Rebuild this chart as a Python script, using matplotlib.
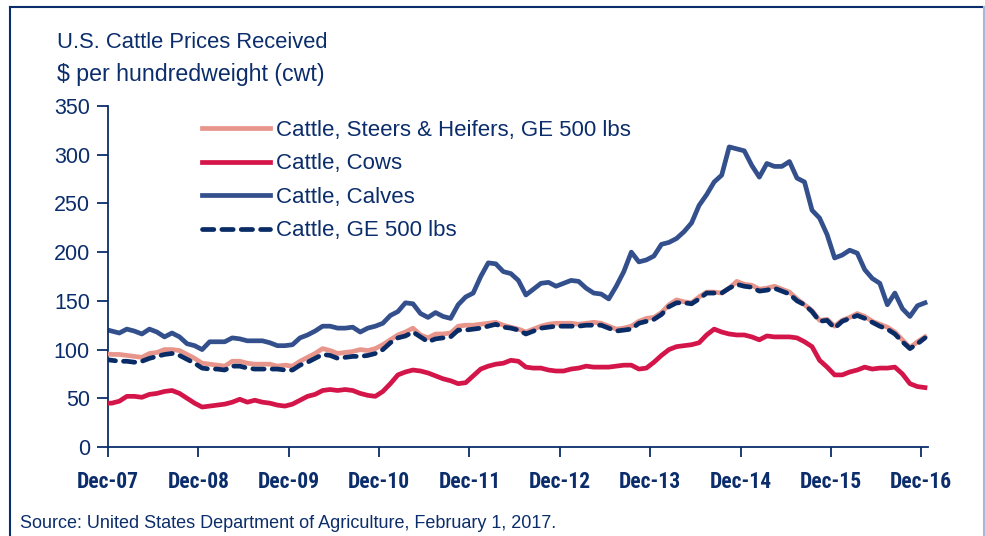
import numpy as np
import matplotlib
matplotlib.use("Agg")
import matplotlib.pyplot as plt
from matplotlib import font_manager
from matplotlib.lines import Line2D

# ---------------- data (monthly, $ per cwt) ----------------
steers_heifers = [96, 95, 95, 94, 93, 92, 96, 97, 100, 100,
                  99, 95, 91, 86, 85, 84, 83, 88, 88, 86,
                  85, 85, 85, 83, 84, 83, 88, 92, 96, 101,
                  99, 96, 97, 98, 100, 99, 101, 105, 110, 115,
                  118, 122, 115, 112, 116, 116, 117, 124, 125, 125,
                  126, 127, 128, 125, 123, 121, 118, 121, 124, 126,
                  127, 127, 127, 126, 127, 128, 127, 124, 121, 122,
                  124, 129, 132, 133, 138, 146, 151, 149, 148, 154,
                  159, 159, 158, 163, 170, 167, 166, 162, 163, 165,
                  162, 159, 152, 146, 140, 130, 131, 124, 130, 133,
                  137, 134, 129, 126, 123, 118, 110, 102, 108, 113]

cows = [45, 45, 47, 52, 52, 51, 54, 55, 57, 58,
        55, 50, 45, 41, 42, 43, 44, 46, 49, 46,
        48, 46, 45, 43, 42, 44, 48, 52, 54, 58,
        59, 58, 59, 58, 55, 53, 52, 57, 65, 74,
        77, 79, 78, 76, 73, 70, 68, 65, 66, 73,
        80, 83, 85, 86, 89, 88, 82, 81, 81, 79,
        78, 78, 80, 81, 83, 82, 82, 82, 83, 84,
        84, 80, 81, 87, 94, 100, 103, 104, 105, 107,
        115, 121, 118, 116, 115, 115, 113, 110, 114, 113,
        113, 113, 112, 108, 103, 89, 82, 74, 74, 77,
        79, 82, 80, 81, 81, 82, 75, 65, 62, 61]

calves = [121, 119, 117, 121, 119, 116, 121, 118, 113, 117,
          113, 106, 104, 100, 108, 108, 108, 112, 111, 109,
          109, 109, 107, 104, 104, 105, 112, 115, 119, 124,
          124, 122, 122, 123, 118, 122, 124, 127, 135, 139,
          148, 147, 137, 133, 138, 134, 132, 146, 154, 158,
          175, 189, 188, 180, 178, 171, 156, 162, 168, 169,
          165, 168, 171, 170, 163, 158, 157, 152, 165, 180,
          200, 190, 192, 196, 208, 210, 214, 221, 230, 248,
          259, 272, 279, 308, 306, 304, 289, 277, 291, 288,
          288, 293, 276, 272, 243, 235, 218, 194, 197, 202,
          199, 182, 173, 168, 146, 158, 142, 134, 145, 148]

ge_500 = [90, 89, 88, 88, 87, 88, 91, 93, 95, 96,
          94, 90, 86, 81, 80, 80, 79, 83, 83, 81,
          80, 80, 80, 80, 79, 79, 84, 87, 91, 95,
          94, 91, 92, 93, 93, 94, 96, 100, 107, 112,
          114, 118, 113, 108, 111, 112, 113, 120, 120, 121,
          122, 124, 126, 123, 122, 120, 116, 119, 122, 123,
          124, 124, 124, 124, 125, 125, 125, 122, 119, 120,
          121, 127, 129, 131, 136, 144, 148, 148, 147, 152,
          158, 158, 158, 163, 167, 165, 164, 160, 161, 163,
          160, 157, 150, 146, 139, 129, 130, 122, 129, 132,
          135, 132, 128, 124, 121, 116, 108, 101, 106, 112]

tick_labels = ["Dec-07", "Dec-08", "Dec-09", "Dec-10", "Dec-11",
               "Dec-12", "Dec-13", "Dec-14", "Dec-15", "Dec-16"]
y_ticks = [0, 50, 100, 150, 200, 250, 300, 350]

series_names = ["Cattle, Steers & Heifers, GE 500 lbs", "Cattle, Cows",
                "Cattle, Calves", "Cattle, GE 500 lbs"]

# ---------------- styling ----------------
NAVY = "#0B2D6B"
C_STEERS = "#E8968C"
C_COWS = "#D4154A"
C_CALVES = "#33508C"
C_GE = "#0A2C66"

avail = {f.name for f in font_manager.fontManager.ttflist}
base_font = "Liberation Sans" if "Liberation Sans" in avail else "DejaVu Sans"
narrow_font = base_font
for cand in ["Liberation Sans Narrow", "Arial Narrow", "Roboto Condensed"]:
    if cand in avail:
        narrow_font = cand
        break
plt.rcParams["font.family"] = [base_font, "DejaVu Sans"]

fig = plt.figure(figsize=(9.85, 5.36), dpi=100)
ax = fig.add_axes([108 / 985, 1 - 447 / 536, (928 - 108) / 985, (447 - 106) / 536])

n = len(calves)
x = np.arange(n) - 0.5  # month index relative to Dec-07 tick

lw = 3.4
ax.plot(x, calves, color=C_CALVES, lw=lw, solid_joinstyle="round", label=series_names[2], zorder=2)
ax.plot(x, steers_heifers, color=C_STEERS, lw=lw, solid_joinstyle="round", label=series_names[0], zorder=3)
ax.plot(x, cows, color=C_COWS, lw=lw, solid_joinstyle="round", label=series_names[1], zorder=3)
ax.plot(x, ge_500, color=C_GE, lw=lw, ls=(0, (2.4, 1.7)), dash_capstyle="round",
        label=series_names[3], zorder=4)

ax.set_xlim(0, 108.9)
ax.set_ylim(0, 350)

for s in ["top", "right"]:
    ax.spines[s].set_visible(False)
for s in ["left", "bottom"]:
    ax.spines[s].set_color(NAVY)
    ax.spines[s].set_linewidth(1.3)

ax.set_yticks(y_ticks)
ax.set_yticklabels([str(v) for v in y_ticks])
ax.set_xticks(np.arange(len(tick_labels)) * 12)
ax.set_xticklabels(tick_labels)
ax.tick_params(axis="y", direction="out", length=8, width=1.3, color=NAVY,
               labelcolor=NAVY, labelsize=15.5, pad=5)
ax.tick_params(axis="x", direction="out", length=7, width=1.3, color=NAVY,
               labelcolor=NAVY, pad=10)
for lab in ax.get_xticklabels():
    lab.set_fontfamily(narrow_font)
    lab.set_fontweight("bold")
    lab.set_fontsize(13.8 if narrow_font == base_font else 15.5)

# legend
handles = {h.get_label(): h for h in ax.get_lines()}
order = [handles[nm] for nm in series_names]
leg = fig.legend(order, series_names, loc="upper left",
                 bbox_to_anchor=(202 / 985, 1 - 120 / 536), frameon=False,
                 fontsize=16, handlelength=3.05, handletextpad=0.3,
                 labelspacing=0.56, borderaxespad=0, borderpad=0)
for t in leg.get_texts():
    t.set_color(NAVY)

# titles
fig.text(57 / 985, 1 - 42 / 536, "U.S. Cattle Prices Received", color=NAVY,
         fontsize=15.8, va="center", ha="left")
fig.text(57 / 985, 1 - 74 / 536, "$ per hundredweight (cwt)", color=NAVY,
         fontsize=16.7, va="center", ha="left")
fig.text(20 / 985, 1 - 523 / 536,
         "Source: United States Department of Agriculture, February 1, 2017.",
         color=NAVY, fontsize=13, va="center", ha="left")

# frame
fig.add_artist(Line2D([10 / 985, 1.0], [1 - 7 / 536] * 2, color=NAVY, lw=1.5,
                      transform=fig.transFigure))
fig.add_artist(Line2D([10 / 985] * 2, [0, 1 - 7 / 536], color=NAVY, lw=1.5,
                      transform=fig.transFigure))
fig.add_artist(Line2D([984 / 985] * 2, [0, 1 - 7 / 536], color="#A9B9D3", lw=1.5,
                      transform=fig.transFigure))

fig.savefig("out.png", dpi=100)
